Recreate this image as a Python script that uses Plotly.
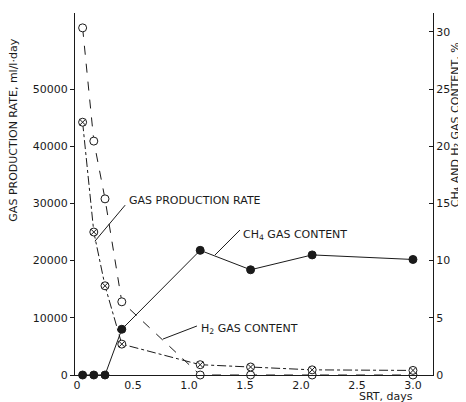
import plotly.graph_objects as go

# ---- data ----
srt_days = [0.05, 0.15, 0.25, 0.40, 1.10, 1.55, 2.10, 3.00]
gas_rate = [60700, 40900, 30800, 12800, 0, 0, 0, 0]          # ml/l-day (left axis)
h2_content = [22.1, 12.5, 7.8, 2.7, 0.9, 0.7, 0.45, 0.4]     # % (right axis)
ch4_content = [0, 0, 0, 4.0, 10.9, 9.2, 10.5, 10.1]          # % (right axis)

x_ticks = [0, 0.5, 1.0, 1.5, 2.0, 2.5, 3.0]
x_ticktext = ["0", "0.5", "1.0", "1.5", "2.0", "2.5", "3.0"]
left_ticks = [0, 10000, 20000, 30000, 40000, 50000]
left_ticktext = ["0", "10000", "20000", "30000", "40000", "50000"]
right_ticks = [0, 5, 10, 15, 20, 25, 30]

FONT = "DejaVu Sans"
INK = "#1a1a1a"

fig = go.Figure()

fig.add_trace(go.Scatter(
    x=srt_days, y=gas_rate, mode="lines+markers", name="GAS PRODUCTION RATE",
    line=dict(color=INK, width=1, dash="dash"),
    marker=dict(symbol="circle", size=8, color="white", line=dict(color=INK, width=1)),
    cliponaxis=False, yaxis="y"))

fig.add_trace(go.Scatter(
    x=srt_days, y=h2_content, mode="lines+markers", name="H2 GAS CONTENT",
    line=dict(color=INK, width=1, dash="dashdot"),
    marker=dict(symbol="circle-x", size=8, color="white", line=dict(color=INK, width=1)),
    cliponaxis=False, yaxis="y2"))

fig.add_trace(go.Scatter(
    x=srt_days, y=ch4_content, mode="lines+markers", name="CH4 GAS CONTENT",
    line=dict(color=INK, width=1),
    marker=dict(symbol="circle", size=8, color=INK, line=dict(color=INK, width=1)),
    cliponaxis=False, yaxis="y2"))

# leader lines (data coords) and labels
leaders = [
    dict(x0=0.43, y0=29700, x1=0.16, y1=23400),
    dict(x0=1.455, y0=25350, x1=1.232, y1=20980),
    dict(x0=1.071, y0=8570, x1=0.768, y1=6290),
]
for ld in leaders:
    fig.add_shape(type="line", xref="x", yref="y", line=dict(color=INK, width=1), **ld)

labels = [
    (0.446, 30600, "GAS PRODUCTION RATE"),
    (1.464, 24480, "CH<sub>4</sub> GAS CONTENT"),
    (1.09, 8040, "H<sub>2</sub> GAS CONTENT"),
]
for lx, ly, txt in labels:
    fig.add_annotation(x=lx, y=ly, xref="x", yref="y", text=txt, showarrow=False,
                       xanchor="left", yanchor="middle",
                       font=dict(family=FONT, size=11, color=INK))

# axis titles
fig.add_annotation(x=0, y=0.675, xref="paper", yref="paper", xshift=-61,
                   text="GAS PRODUCTION RATE, ml/l·day", textangle=-90, showarrow=False,
                   xanchor="center", yanchor="middle",
                   font=dict(family=FONT, size=11, color=INK))
fig.add_annotation(x=1, y=0.69, xref="paper", yref="paper", xshift=22,
                   text="CH₄ AND H₂ GAS CONTENT, %", textangle=-90, showarrow=False,
                   xanchor="center", yanchor="middle",
                   font=dict(family=FONT, size=11, color=INK))
fig.add_annotation(x=0.869, y=0, xref="paper", yref="paper", yshift=-21,
                   text="SRT, days", showarrow=False, xanchor="center", yanchor="middle",
                   font=dict(family=FONT, size=11, color=INK))

fig.update_layout(
    width=466, height=402,
    margin=dict(l=67, r=41, t=5, b=35),
    paper_bgcolor="white", plot_bgcolor="white",
    showlegend=False,
    font=dict(family=FONT, size=11, color=INK),
    xaxis=dict(range=[-0.018, 3.179], tickvals=x_ticks, ticktext=x_ticktext,
               showline=True, linecolor=INK, linewidth=1, showgrid=False, zeroline=False,
               ticks="", tickfont=dict(family=FONT, size=11, color=INK)),
    yaxis=dict(range=[0, 63300], tickvals=left_ticks, ticktext=left_ticktext,
               showline=True, linecolor=INK,
               linewidth=1, showgrid=False, zeroline=False, ticks="outside", ticklen=4,
               tickcolor=INK, tickfont=dict(family=FONT, size=11, color=INK)),
    yaxis2=dict(range=[0, 31.65], tickvals=right_ticks, overlaying="y", side="right",
                showline=True, linecolor=INK, linewidth=1, showgrid=False, zeroline=False,
                ticks="inside", ticklen=4, tickcolor=INK,
                tickfont=dict(family=FONT, size=11, color=INK)),
)

fig.write_html("out.html")
